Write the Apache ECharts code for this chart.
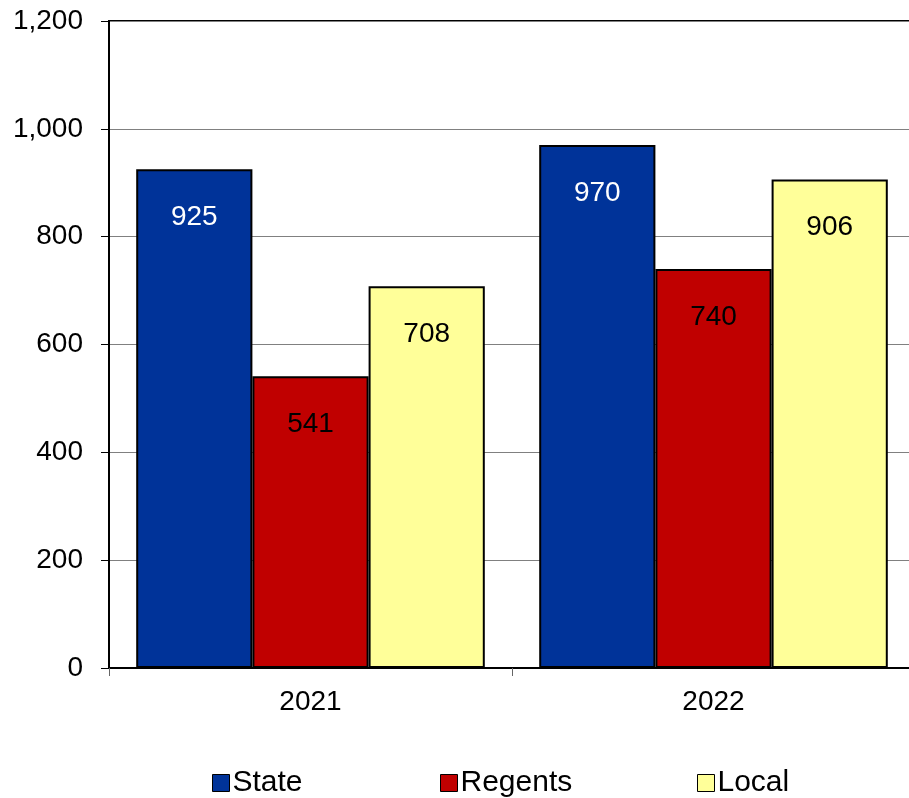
<!DOCTYPE html>
<html>
<head>
<meta charset="utf-8">
<script src="https://cdn.jsdelivr.net/npm/echarts@6/dist/echarts.min.js"></script>
<style>
  html, body { margin: 0; padding: 0; background: #fff; overflow: hidden; }
  #chart { width: 916px; height: 798px; }
</style>
</head>
<body>
<div id="chart"></div>
<script>
const years = ["2021", "2022"];
const stateVals = [925, 970];
const regentsVals = [541, 740];
const localVals = [708, 906];
const yTicks = { min: 0, max: 1200, interval: 200 };

const colors = ["#003399", "#C00000", "#FFFF99"];
const font = "Liberation Sans, Arial, sans-serif";

// plot runs a little past the right edge of the window, like the original
const chart = echarts.init(document.getElementById("chart"));

function barSeries(name, data, color, labelColor) {
  return {
    name: name,
    type: "bar",
    data: data,
    barGap: "0%",
    barCategoryGap: "13.5%",
    itemStyle: { color: color, borderColor: "#000", borderWidth: 2 },
    label: {
      show: true,
      position: "insideTop",
      distance: 34,
      color: labelColor,
      fontSize: 28,
      fontFamily: font,
    },
  };
}

function legendAt(name, left) {
  return {
    data: [name],
    left: left,
    top: 763,
    itemWidth: 17,
    itemHeight: 17,
    itemGap: 0,
    icon: "rect",
    itemStyle: { borderColor: "#000", borderWidth: 1 },
    textStyle: { fontSize: 30, fontFamily: font, color: "#000", padding: [0, 0, 0, -2] },
    selectedMode: false,
  };
}

const option = {
  animation: false,
  color: colors,
  grid: {
    left: 109,
    top: 21,
    right: 1,
    height: 647,
    show: true,
    borderColor: "#000",
    borderWidth: 2,
    containLabel: false,
  },
  legend: [
    legendAt("State", 207),
    legendAt("Regents", 435),
    legendAt("Local", 692),
  ],
  xAxis: {
    type: "category",
    data: years,
    axisLine: { lineStyle: { color: "#000", width: 2 } },
    axisTick: { show: true, length: 8, lineStyle: { color: "#666" } },
    axisLabel: { fontSize: 28, fontFamily: font, color: "#000", margin: 20 },
  },
  yAxis: {
    type: "value",
    min: yTicks.min,
    max: yTicks.max,
    interval: yTicks.interval,
    axisLine: { show: true, lineStyle: { color: "#000", width: 2 } },
    axisTick: { show: true, length: 8, lineStyle: { color: "#000" } },
    axisLabel: {
      fontSize: 28,
      fontFamily: font,
      color: "#000",
      margin: 26,
      formatter: (v) => v.toLocaleString("en-US"),
    },
    splitLine: { lineStyle: { color: "#808080", width: 1 } },
  },
  series: [
    barSeries("State", stateVals, colors[0], "#fff"),
    barSeries("Regents", regentsVals, colors[1], "#000"),
    barSeries("Local", localVals, colors[2], "#000"),
  ],
};

chart.setOption(option);
</script>
</body>
</html>
